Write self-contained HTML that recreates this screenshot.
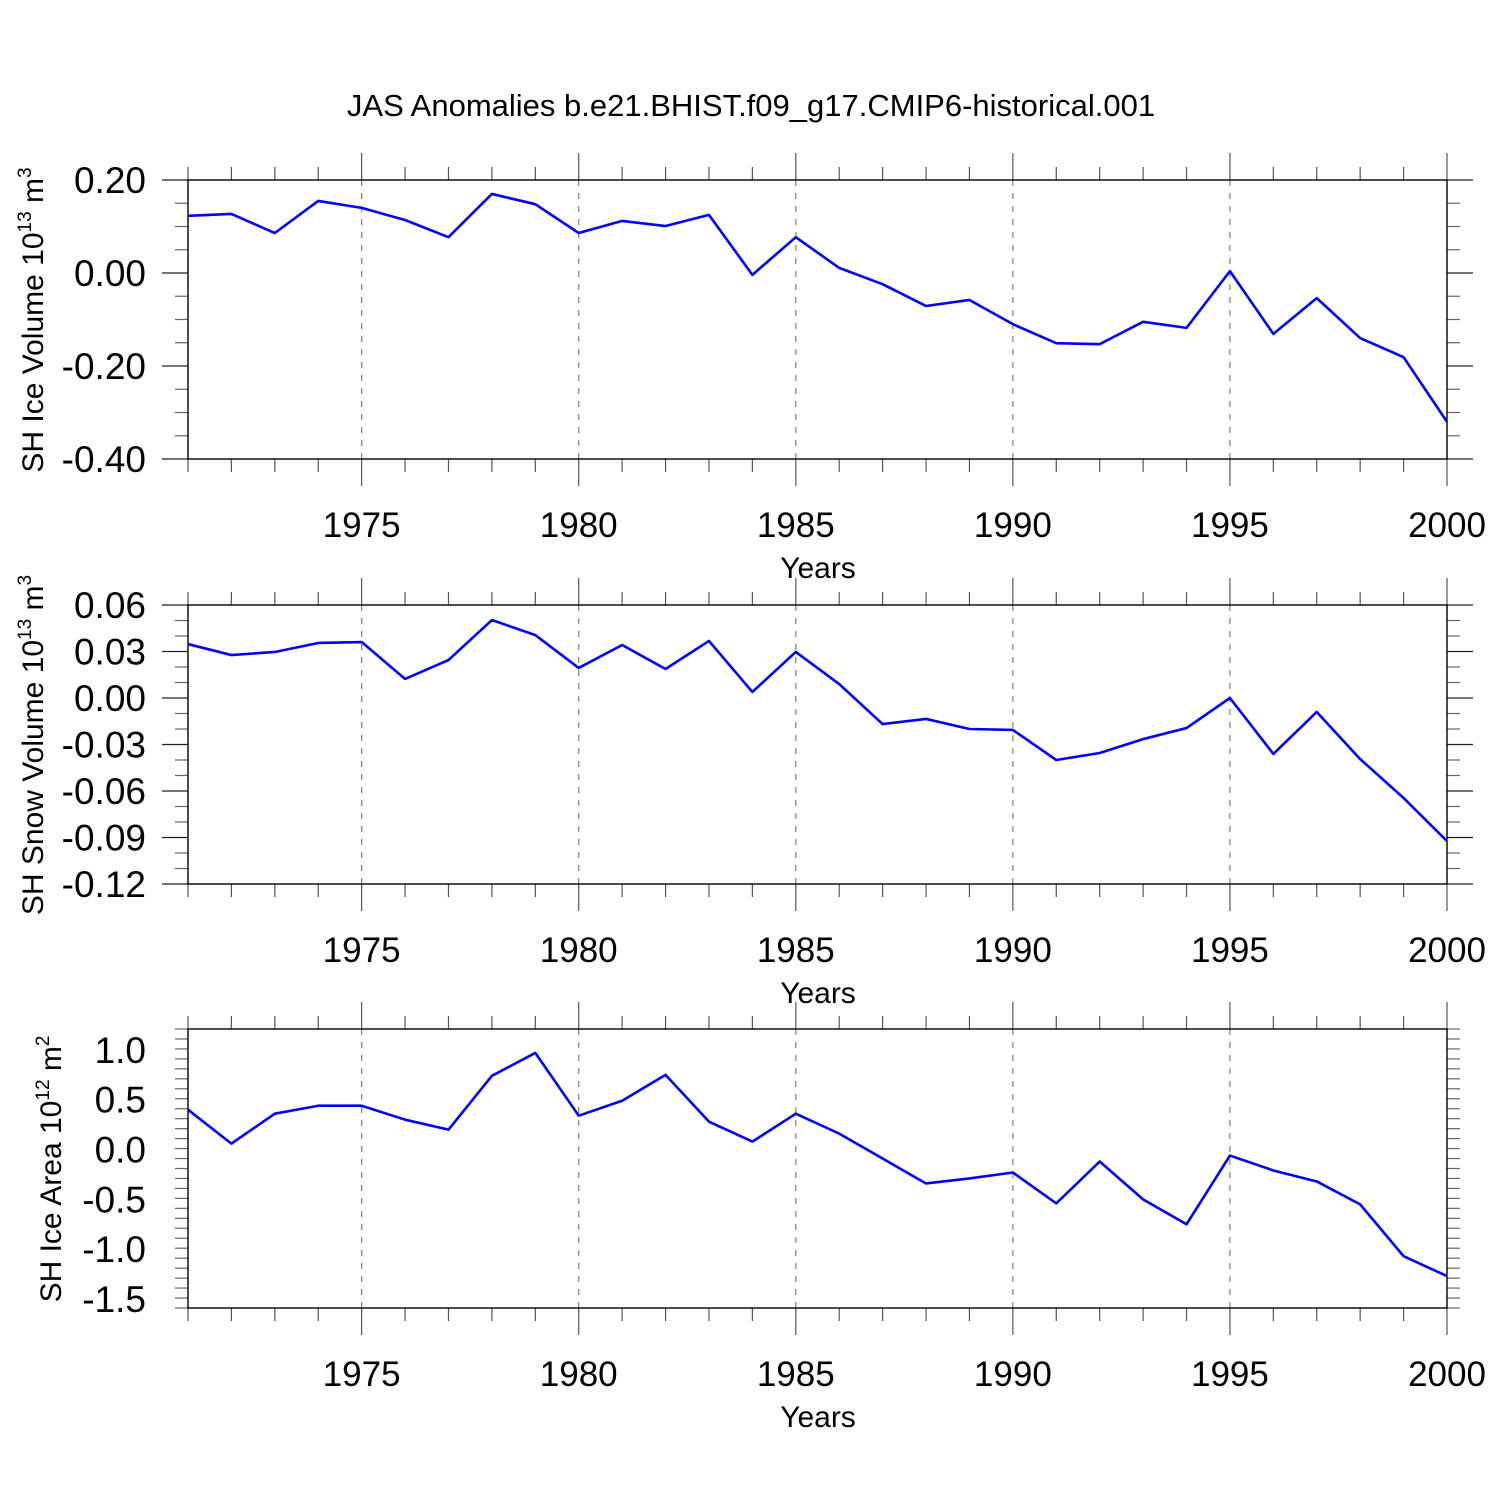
<!DOCTYPE html>
<html><head><meta charset="utf-8"><style>
body{margin:0;background:#fff}
svg{display:block;font-family:"Liberation Sans",sans-serif}
</style></head><body>
<svg id="chart" width="1500" height="1500" xmlns="http://www.w3.org/2000/svg">
<text x="751" y="116" font-size="31" text-anchor="middle">JAS Anomalies b.e21.BHIST.f09_g17.CMIP6-historical.001</text>
</svg>
<script>
const years = [1971,1972,1973,1974,1975,1976,1977,1978,1979,1980,1981,1982,1983,1984,1985,1986,1987,1988,1989,1990,1991,1992,1993,1994,1995,1996,1997,1998,1999,2000];
const iceVolume = [0.123,0.127,0.086,0.155,0.140,0.114,0.077,0.170,0.148,0.086,0.112,0.101,0.125,-0.004,0.077,0.011,-0.024,-0.071,-0.058,-0.110,-0.151,-0.153,-0.105,-0.118,0.004,-0.131,-0.054,-0.140,-0.181,-0.320];
const snowVolume = [0.0348,0.0277,0.0297,0.0355,0.0361,0.0123,0.0245,0.0503,0.0406,0.0194,0.0342,0.0187,0.0368,0.0039,0.0297,0.0090,-0.0168,-0.0135,-0.0200,-0.0206,-0.0400,-0.0355,-0.0265,-0.0194,0.0000,-0.0361,-0.0090,-0.0394,-0.0645,-0.0923];
const iceArea = [0.40,0.06,0.36,0.44,0.44,0.30,0.20,0.74,0.97,0.34,0.49,0.75,0.28,0.08,0.36,0.16,-0.09,-0.34,-0.29,-0.23,-0.54,-0.12,-0.50,-0.75,-0.06,-0.21,-0.32,-0.55,-1.07,-1.27];
const xTicks = [1975,1980,1985,1990,1995,2000];
const iceVolTicks = [0.20,0.00,-0.20,-0.40];
const snowTicks = [0.06,0.03,0.00,-0.03,-0.06,-0.09,-0.12];
const areaTicks = [1.0,0.5,0.0,-0.5,-1.0,-1.5];

const NS="http://www.w3.org/2000/svg";
const svg=document.getElementById('chart');
function mk(tag,attrs,parent){const e=document.createElementNS(NS,tag);for(const k in attrs)e.setAttribute(k,attrs[k]);(parent||svg).appendChild(e);return e;}
const X0=188,X1=1447;
function xs(y){return X0+(y-1971)*(X1-X0)/29;}

function panel(cfg){
  const g=mk('g',{});
  
  
  const top=cfg.top,bot=cfg.top+279;
  const ys=v=>top+(cfg.ymax-v)*(bot-top)/(cfg.ymax-cfg.ymin);
  xTicks.forEach(t=>{if(t<2000){const l=mk('line',{x1:xs(t),x2:xs(t),y1:top,y2:bot,stroke:'#888','stroke-width':1.3,'stroke-dasharray':'6,7'},g);
    }});
  years.forEach(y=>{const major=xTicks.includes(y);const len=major?27:13;
    mk('line',{x1:xs(y),x2:xs(y),y1:top-len,y2:top,stroke:'#555','stroke-width':1.2},g);
    mk('line',{x1:xs(y),x2:xs(y),y1:bot,y2:bot+len,stroke:'#555','stroke-width':1.2},g);});
  const n=Math.round((cfg.ymax-cfg.ymin)/cfg.minor);
  for(let i=0;i<=n;i++){const v=cfg.ymax-i*cfg.minor;const yy=ys(v);
    const major=cfg.ticks.some(t=>Math.abs(t-v)<1e-6);const len=major?26:13;
    mk('line',{x1:X0-len,x2:X0,y1:yy,y2:yy,stroke:major?'#222':'#666','stroke-width':1.2},g);
    mk('line',{x1:X1,x2:X1+len,y1:yy,y2:yy,stroke:major?'#222':'#666','stroke-width':1.2},g);}
  const fr=mk('rect',{x:X0,y:top,width:X1-X0,height:bot-top,fill:'none',stroke:'#000','stroke-width':1.4},g);
  
  cfg.ticks.forEach(t=>{const tx=mk('text',{x:146,y:ys(t)+13,'font-size':37,'text-anchor':'end'},g);tx.textContent=cfg.fmt(t);
    });
  xTicks.forEach(t=>{const tx=mk('text',{x:xs(t),y:bot+78,'font-size':35,'text-anchor':'middle'},g);tx.textContent=t;
    });
  const xl=mk('text',{x:818,y:bot+119,'font-size':30,'text-anchor':'middle'},g);xl.textContent='Years';
  
  const yl=mk('text',{x:0,y:0,'font-size':30,'text-anchor':'middle',transform:`translate(${cfg.ylx},${top+140}) rotate(-90)`},g);
  
  yl.appendChild(document.createTextNode(cfg.label+' 10'));
  const s1=mk('tspan',{'font-size':19,dy:-12},yl);s1.textContent=cfg.exp;
  const s2=mk('tspan',{dy:12},yl);s2.textContent=' m';
  const s3=mk('tspan',{'font-size':19,dy:-12},yl);s3.textContent=cfg.pow;
  const pts=years.map((y,i)=>xs(y)+','+ys(cfg.data[i])).join(' ');
  const pl=mk('polyline',{points:pts,fill:'none',stroke:'#0000ff','stroke-width':2.6,'stroke-linejoin':'round'},g);
  
}
panel({name:'ice-volume',top:180,ymax:0.2,ymin:-0.4,minor:0.05,ticks:iceVolTicks,fmt:v=>v.toFixed(2),data:iceVolume,label:'SH Ice Volume',exp:'13',pow:'3',ylx:43});
panel({name:'snow-volume',top:605,ymax:0.06,ymin:-0.12,minor:0.01,ticks:snowTicks,fmt:v=>v.toFixed(2),data:snowVolume,label:'SH Snow Volume',exp:'13',pow:'3',ylx:43});
panel({name:'ice-area',top:1029,ymax:1.21,ymin:-1.59,minor:0.1,ticks:areaTicks,fmt:v=>v.toFixed(1),data:iceArea,label:'SH Ice Area',exp:'12',pow:'2',ylx:61});
</script>
</body></html>
